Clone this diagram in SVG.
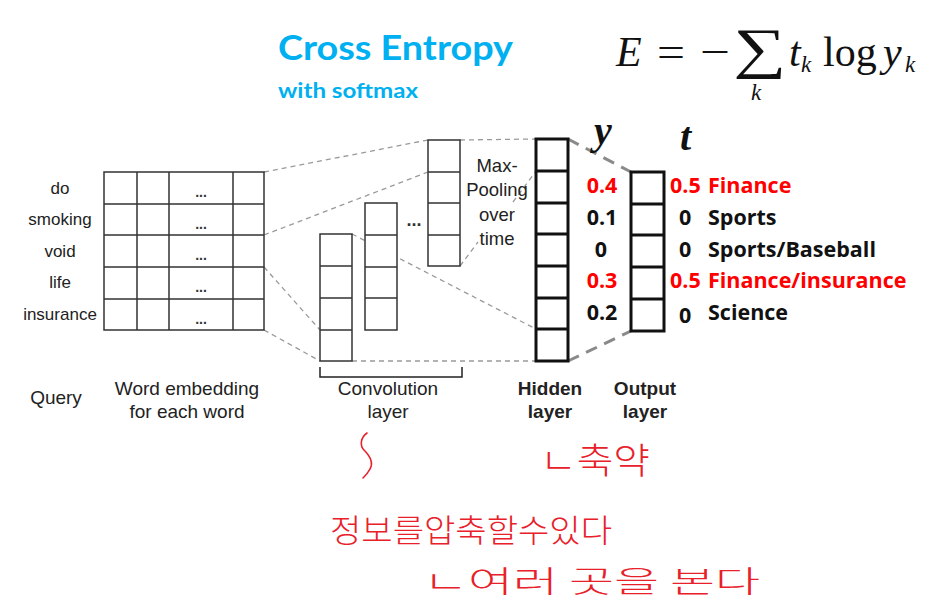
<svg xmlns="http://www.w3.org/2000/svg" width="947" height="601" viewBox="0 0 947 601">
<defs>
<style>
.sans{font-family:"Liberation Sans",Arial,sans-serif;fill:#222}
.lbl{font-size:17px;text-anchor:middle}
.cap{font-size:19px;text-anchor:middle}
.bold{font-weight:bold}
.cell{fill:#fff;stroke:#333;stroke-width:1.5}
.thick{fill:#fff;stroke:#111;stroke-width:3}
.dash{stroke:#9a9a9a;stroke-width:1.3;stroke-dasharray:5 4;fill:none}
.dashk{stroke:#8a8a8a;stroke-width:3;stroke-dasharray:12 8;fill:none}
.val{font-family:"Open Sans","Noto Sans",sans-serif;font-weight:bold;font-size:21.5px;fill:#111}
.red{fill:#ff0000}
.math{font-family:"Liberation Serif","Times New Roman",serif;fill:#111}
.hand{font-family:"Noto Sans CJK KR",sans-serif;font-weight:300;fill:#e8202a}
.dots{font-family:"Liberation Sans",sans-serif;font-size:14px;font-weight:bold;fill:#333;text-anchor:middle}
</style>
</defs>
<rect width="947" height="601" fill="#fff"/>

<g id="title">
<text x="278" y="60" font-family="Lato,'Open Sans',sans-serif" font-weight="bold" font-size="35" fill="#00b0f0" textLength="235" lengthAdjust="spacingAndGlyphs">Cross Entropy</text>
<text x="278" y="98" font-family="Lato,'Open Sans',sans-serif" font-weight="bold" font-size="21" fill="#00b0f0" textLength="140" lengthAdjust="spacingAndGlyphs">with softmax</text>
</g>

<g id="equation" class="math">
<text x="616" y="66" font-size="42" font-style="italic">E</text>
<text x="657" y="66" font-size="42" textLength="28" lengthAdjust="spacingAndGlyphs">=</text>
<text x="700" y="66" font-size="42" textLength="30" lengthAdjust="spacingAndGlyphs">−</text>
<text transform="translate(733,67) scale(1.33,1)" font-size="56">∑</text>
<text x="751" y="100" font-size="23" font-style="italic">k</text>
<text x="789" y="66" font-size="42" font-style="italic">t</text>
<text x="801" y="72" font-size="23" font-style="italic">k</text>
<text x="823" y="66" font-size="42">log</text>
<text x="883" y="66" font-size="42" font-style="italic">y</text>
<text x="905" y="72" font-size="23" font-style="italic">k</text>
</g>

<g id="connectors">
<line class="dash" x1="264" y1="172" x2="428" y2="140"/>
<line class="dash" x1="264" y1="235" x2="428" y2="172"/>
<line class="dash" x1="264" y1="267" x2="320" y2="330"/>
<line class="dash" x1="264" y1="330" x2="320" y2="361"/>
<line class="dash" x1="352" y1="234" x2="536" y2="329"/>
<line class="dash" x1="460" y1="140" x2="536" y2="139"/>
<line class="dash" x1="352" y1="361" x2="536" y2="361"/>
<line class="dash" x1="460" y1="266" x2="478" y2="242"/>
<line class="dash" x1="513" y1="202" x2="536" y2="171"/>
<line class="dashk" x1="568" y1="139" x2="631" y2="172"/>
<line class="dashk" x1="568" y1="361" x2="631" y2="331"/>
</g>

<g id="query-words" class="sans lbl">
<text x="60" y="194">do</text>
<text x="60" y="225">smoking</text>
<text x="60" y="257">void</text>
<text x="60" y="288">life</text>
<text x="60" y="320">insurance</text>
</g>

<g id="embedding-grid">
<rect class="cell" x="104" y="172" width="160" height="158"/>
<path d="M137 172V330M169 172V330M233 172V330M104 204H264M104 235H264M104 267H264M104 299H264" stroke="#333" stroke-width="1.5" fill="none"/>
<text class="dots" x="201" y="197">...</text>
<text class="dots" x="201" y="229">...</text>
<text class="dots" x="201" y="260">...</text>
<text class="dots" x="201" y="292">...</text>
<text class="dots" x="201" y="324">...</text>
</g>

<g id="conv-col1">
<rect class="cell" x="320" y="234" width="32" height="127"/>
<path d="M320 266H352M320 298H352M320 330H352" stroke="#333" stroke-width="1.5"/>
</g>
<g id="conv-col2">
<rect class="cell" x="365" y="203" width="32" height="127"/>
<path d="M365 235H397M365 267H397M365 298H397" stroke="#333" stroke-width="1.5"/>
</g>
<text x="414" y="226" font-family="Liberation Sans,sans-serif" font-size="18" font-weight="bold" fill="#333" text-anchor="middle">...</text>
<g id="conv-col3">
<rect class="cell" x="428" y="140" width="32" height="126"/>
<path d="M428 172H460M428 203H460M428 235H460" stroke="#333" stroke-width="1.5"/>
</g>
<g id="maxpool-label" class="sans" font-size="18.5" text-anchor="middle">
<text x="497" y="172">Max-</text>
<text x="497" y="196">Pooling</text>
<text x="497" y="221">over</text>
<text x="497" y="245">time</text>
</g>

<g id="conv-bracket">
<path d="M320 367V377H462V367" stroke="#222" stroke-width="1.5" fill="none"/>
</g>

<g id="hidden-layer">
<rect class="thick" x="536" y="139" width="32" height="222"/>
<path d="M536 171H568M536 203H568M536 234H568M536 266H568M536 298H568M536 329H568" stroke="#111" stroke-width="3"/>
</g>

<g id="output-layer">
<rect class="thick" x="631" y="172" width="33" height="159"/>
<path d="M631 204H664M631 235H664M631 267H664M631 299H664" stroke="#111" stroke-width="3"/>
</g>

<g id="y-values" class="val" text-anchor="middle">
<text x="602" y="193" class="red">0.4</text>
<text x="602" y="225">0.1</text>
<text x="601" y="257">0</text>
<text x="602" y="288" class="red">0.3</text>
<text x="602" y="320">0.2</text>
</g>

<g id="t-values" class="val">
<text x="670" y="193" class="red">0.5</text>
<text x="708" y="193" class="red">Finance</text>
<text x="679" y="225">0</text>
<text x="708" y="225">Sports</text>
<text x="679" y="257">0</text>
<text x="708" y="257">Sports/Baseball</text>
<text x="670" y="288" class="red">0.5</text>
<text x="708" y="288" class="red">Finance/insurance</text>
<text x="679" y="323">0</text>
<text x="708" y="320">Science</text>
</g>

<g id="yt-headers" class="math" font-weight="bold" font-style="italic" font-size="40">
<text x="594" y="144">y</text>
<text x="680" y="150">t</text>
</g>

<g id="bottom-labels" class="sans cap">
<text x="56" y="404">Query</text>
<text x="187" y="395">Word embedding</text>
<text x="187" y="418">for each word</text>
<text x="388" y="395">Convolution</text>
<text x="388" y="418">layer</text>
<text x="550" y="395" class="bold">Hidden</text>
<text x="550" y="418" class="bold">layer</text>
<text x="645" y="395" class="bold">Output</text>
<text x="645" y="418" class="bold">layer</text>
</g>

<g id="handwriting">
<path d="M367 433C360 438 360 446 364 450C370 456 374 462 370 469C368 473 365 476 363 478" stroke="#e8202a" stroke-width="1.6" fill="none" stroke-linecap="round"/>
<text class="hand" x="540" y="474" font-size="36" textLength="110" lengthAdjust="spacingAndGlyphs">ㄴ축약</text>
<text class="hand" x="330" y="542" font-size="32" textLength="282" lengthAdjust="spacingAndGlyphs">정보를압축할수있다</text>
<text class="hand" x="423" y="592" font-size="30" textLength="337" lengthAdjust="spacingAndGlyphs">ㄴ여러 곳을 본다</text>
</g>
</svg>
